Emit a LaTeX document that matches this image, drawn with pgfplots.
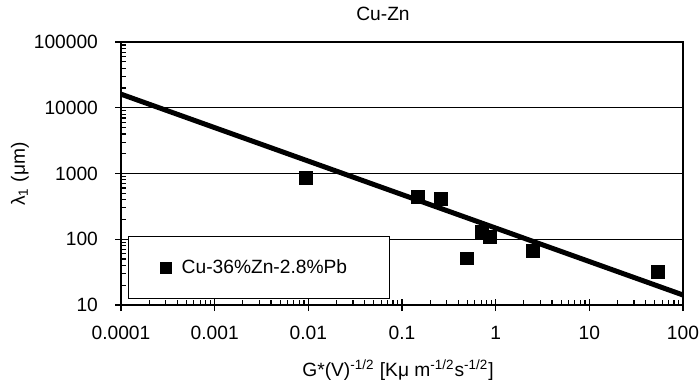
\documentclass[border=0pt]{standalone}
\usepackage{fontspec}
\setmainfont{Liberation Sans}
\usepackage{pgfplots}
\pgfplotsset{compat=1.18}
\newcommand\lblfont{\fontsize{9.6}{11}\selectfont}
\begin{document}
\begin{tikzpicture}
\path[use as bounding box] (-60.5pt,-41pt) rectangle (289pt,152.5pt);
\begin{axis}[
  at={(0,0)}, anchor=south west,
  scale only axis, width=281pt, height=131.5pt,
  xmode=log, ymode=log,
  xmin=1e-4, xmax=100, ymin=10, ymax=1e5,
  xtick={1e-4,1e-3,1e-2,1e-1,1,10,100},
  xticklabels={0.0001,0.001,0.01,0.1,1,10,100},
  ytick={10,100,1000,10000,100000},
  yticklabels={10,100,1000,10000,100000},
  minor xtick={2e-4,3e-4,4e-4,5e-4,6e-4,7e-4,8e-4,9e-4,
               2e-3,3e-3,4e-3,5e-3,6e-3,7e-3,8e-3,9e-3,
               0.02,0.03,0.04,0.05,0.06,0.07,0.08,0.09,
               0.2,0.3,0.4,0.5,0.6,0.7,0.8,0.9,
               2,3,4,5,6,7,8,9,
               20,30,40,50,60,70,80,90},
  minor ytick={20,30,40,50,60,70,80,90,
               200,300,400,500,600,700,800,900,
               2000,3000,4000,5000,6000,7000,8000,9000,
               20000,30000,40000,50000,60000,70000,80000,90000},
  xtick pos=bottom, ytick pos=left,
  ymajorgrids,
  major grid style={black, line width=0.5pt},
  axis line style={line width=1pt},
  tick style={black, line width=0.6pt},
  tick align=inside,
  major tick length=3pt, minor tick length=2.5pt,
  extra x ticks={1e-4,1e-3,1e-2,1e-1,1,10,100},
  extra x tick labels={},
  extra y ticks={10,100,1000,10000,100000},
  extra y tick labels={},
  extra tick style={tick align=outside, grid=none, major tick length=3pt},
  ticklabel style={font=\lblfont},
  xticklabel style={yshift=-7pt},
  yticklabel style={xshift=-8pt},
  clip=true,
  legend style={at={(axis description cs:0.07,0.141)}, anchor=west,
    draw=none, fill=none, font=\lblfont, inner sep=0pt},
  legend image code/.code={\pgfsetplotmarksize{2.75pt}\pgfuseplotmark{square*}},
]
% Cu-36%Zn-2.8%Pb measurements
\addplot[only marks, mark=square*, mark size=3.2pt, black] coordinates {
  (0.0095,860) (0.147,443) (0.26,408) (0.71,130) (0.873,109)
  (0.493,51) (2.49,67) (53.8,32)
};
\addlegendentry{\hspace{3pt}Cu-36\%Zn-2.8\%Pb}
% power-law fit
\addplot[black, line width=2.5pt, forget plot] coordinates {(0.0001,16100) (100,14.2)};
\draw[fill=white, line width=0.5pt] (axis description cs:0.0125,0.023) rectangle (axis description cs:0.477,0.259);
\end{axis}
\node[font=\lblfont] at (131pt,145.5pt) {Cu-Zn};
\node[font=\lblfont] at (138.5pt,-32.5pt) {G*(V)\textsuperscript{-1/2} [Kμ m\textsuperscript{-1/2}s\textsuperscript{-1/2}]};
\node[font=\lblfont, rotate=90] at (-50.5pt,65.5pt) {λ\textsubscript{1} (μm)};
\end{tikzpicture}
\end{document}
